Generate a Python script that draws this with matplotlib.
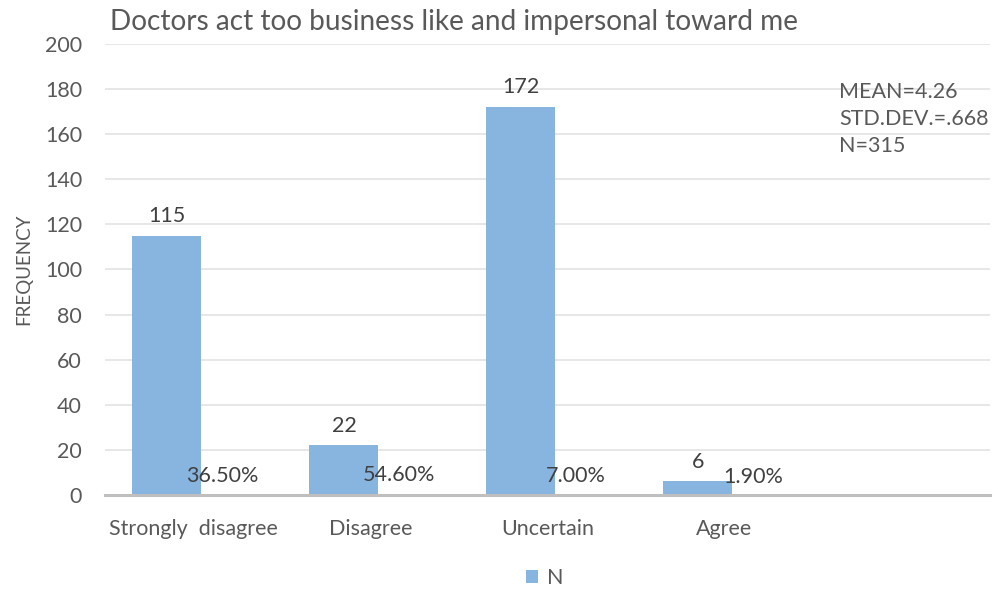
import numpy as np
import matplotlib
matplotlib.use('Agg')
import matplotlib.pyplot as plt

plt.rcParams['font.family'] = ['Lato', 'DejaVu Sans']

categories = ['Strongly  disagree', 'Disagree', 'Uncertain', 'Agree', '']
counts = [115, 22, 172, 6]
percents = [36.50, 54.60, 7.00, 1.90]
stats_text = ['MEAN=4.26', 'STD.DEV.=.668', 'N=315']

grey = '#595959'
bar_color = '#88b4e0'
fs = 15.5

fig = plt.figure(figsize=(9.98, 5.92), dpi=100)
ax = fig.add_axes([0.1052, 0.1639, 0.8868, 0.7618])

x = np.arange(len(categories))
xn = x[:len(counts)] - 0.15
bars = ax.bar(xn, counts, width=0.39, color=bar_color, label='N', zorder=2)

# count labels above each bar
for xi, v in zip(xn, counts):
    ax.annotate(str(v), (xi, v), xytext=(0, 7), textcoords='offset points',
                ha='center', va='bottom', fontsize=fs, color='#404040')

# percentage series sits on the baseline (fraction of total)
xp = x[:len(percents)] + 0.16
for xi, p in zip(xp, percents):
    ax.annotate('%.2f%%' % p, (xi, p / 100), xytext=(0, 6), textcoords='offset points',
                ha='center', va='bottom', fontsize=fs, color='#404040')

ax.set_xlim(-0.5, len(categories) - 0.5)
ax.set_ylim(0, 200)
ax.set_yticks(np.arange(0, 201, 20))
ax.set_xticks(x)
ax.set_xticklabels(categories)
ax.tick_params(axis='both', length=0, labelsize=fs, labelcolor=grey)
ax.tick_params(axis='x', pad=17)
ax.tick_params(axis='y', pad=16.5)

ax.grid(axis='y', color='#e3e3e3', linewidth=1.2, zorder=0)
for s in ['top', 'right', 'left']:
    ax.spines[s].set_visible(False)
ax.spines['bottom'].set_color('#bfbfbf')
ax.spines['bottom'].set_linewidth(2.2)
ax.spines['bottom'].set_zorder(3)

ax.set_ylabel('FREQUENCY', fontsize=13.5, color=grey, labelpad=9)

fig.text(0.110, 0.962, 'Doctors act too business like and impersonal toward me',
         fontsize=20.2, color=grey, ha='left', va='center')

for i, t in enumerate(stats_text):
    fig.text(0.841, 0.845 - i * 0.0456, t, fontsize=fs, color=grey,
             ha='left', va='center')

fig.legend(handles=[bars], labels=['N'], loc='center', bbox_to_anchor=(0.546, 0.023),
           frameon=False, fontsize=fs, handlelength=0.55, handleheight=0.55,
           handletextpad=0.4, labelcolor=grey)

fig.savefig('out.png', dpi=100)
